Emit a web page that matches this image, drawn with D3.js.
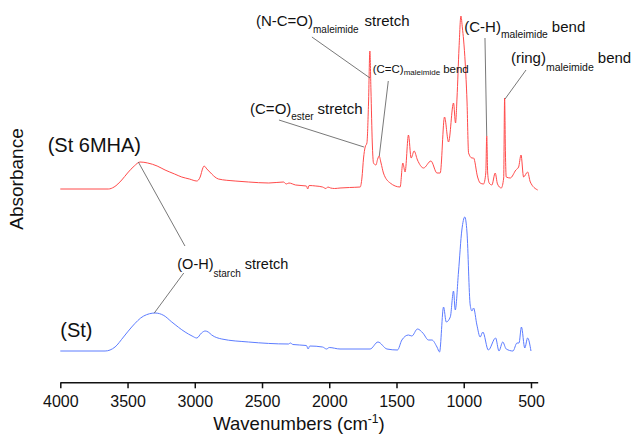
<!DOCTYPE html>
<html>
<head>
<meta charset="utf-8">
<script src="https://cdn.jsdelivr.net/npm/d3@7"></script>
<style>
  html, body { margin: 0; padding: 0; background: #fff; }
  svg text { font-family: "Liberation Sans", Arial, sans-serif; fill: #111; }
</style>
</head>
<body>
<svg id="chart" width="634" height="444"></svg>
<script>
// ---- data ----
const xTicks = [4000, 3500, 3000, 2500, 2000, 1500, 1000, 500];

// (St 6MHA) spectrum: wavenumber (cm-1), absorbance (a.u., stacked)
const st6mhaWn = [4000,3643,3600,3543,3500,3450,3407,3350,3280,3221,3150,3097,3040,2985,2960,2940,2931,2910,2874,2850,2824,2700,2600,2450,2340,2320,2300,2250,2170,2160,2150,2100,2050,2025,2010,1990,1960,1920,1850,1770,1757,1745,1733,1720,1708,1698,1690,1680,1671,1653,1640,1629,1615,1597,1547,1473,1453,1436,1411,1391,1369,1344,1299,1244,1199,1175,1143,1113,1076,1061,1050,1035,1021,1010,1001,989,976,964,939,927,897,878,853,836,829,822,811,791,766,749,721,703,696,690,684,654,612,592,574,555,525,505,450];
const st6mhaA  = [1.94,1.94,1.96,2.03,2.10,2.17,2.21,2.20,2.17,2.13,2.09,2.06,2.04,2.02,2.06,2.15,2.17,2.14,2.09,2.06,2.04,2.02,2.01,2.00,2.01,1.99,2.00,1.98,1.97,1.94,1.975,1.97,1.96,1.945,1.96,1.95,1.945,1.95,1.955,1.96,2.05,2.25,2.36,2.40,2.80,3.32,2.93,2.40,2.20,2.18,2.24,2.27,2.20,2.10,2.00,1.96,2.20,2.11,2.48,2.25,2.32,2.23,2.15,2.22,2.10,2.10,2.66,2.41,2.80,2.60,2.85,3.35,3.67,3.55,3.43,3.20,2.83,2.30,2.25,2.25,2.06,2.00,1.99,2.10,2.47,2.10,2.00,1.98,2.10,1.99,1.95,2.05,2.85,2.30,2.06,2.05,2.13,2.16,2.28,2.06,2.11,2.01,1.93];

// (St) spectrum
const stWn = [4000,3667,3593,3530,3469,3380,3295,3230,3171,3072,3020,2985,2950,2923,2900,2874,2799,2600,2303,2290,2270,2170,2157,2145,2050,2020,2000,1920,1696,1638,1571,1493,1460,1411,1386,1344,1304,1262,1237,1199,1180,1150,1130,1100,1076,1063,1039,1014,992,976,952,939,927,902,878,858,817,763,738,710,684,634,604,589,571,546,525,500];
const stA  = [0.32,0.32,0.36,0.46,0.56,0.67,0.70,0.675,0.61,0.51,0.47,0.45,0.50,0.52,0.51,0.48,0.44,0.41,0.39,0.40,0.385,0.375,0.34,0.37,0.36,0.34,0.355,0.34,0.34,0.41,0.34,0.33,0.43,0.48,0.47,0.54,0.50,0.43,0.43,0.36,0.31,0.76,0.61,0.66,0.92,0.73,1.11,1.53,1.66,1.51,0.78,0.72,0.75,0.58,0.46,0.51,0.33,0.45,0.32,0.41,0.34,0.32,0.40,0.40,0.56,0.35,0.45,0.32];

// annotation texts
const bandMain = ["(N-C=O)", "(C=O)", "(C=C)", "(C-H)", "(ring)", "(O-H)"];
const bandSub  = ["maleimide", "ester", "maleimide", "maleimide", "maleimide", "starch"];
const bandTail = ["stretch", "stretch", "bend", "bend", "bend", "stretch"];
const sampleLabels = ["(St 6MHA)", "(St)"];

// ---- layout ----
const svg = d3.select("#chart");
const x = d3.scaleLinear().domain([4000, 450]).range([60.3, 537.7]);
const y = d3.scaleLinear().domain([0, 3.83]).range([383, 0]);

const line = d3.line()
  .x(d => x(d[0])).y(d => y(d[1]))
  .curve(d3.curveMonotoneX);

svg.append("path")
  .datum(d3.zip(st6mhaWn, st6mhaA))
  .attr("d", line).attr("fill", "none")
  .attr("stroke", "#ff4a4a").attr("stroke-width", 1);

svg.append("path")
  .datum(d3.zip(stWn, stA))
  .attr("d", line).attr("fill", "none")
  .attr("stroke", "#5c7cff").attr("stroke-width", 1);

// x axis
const ax = svg.append("g")
  .attr("transform", `translate(0,${y(0) - 0.7})`)
  .call(d3.axisBottom(x).tickValues(xTicks).tickSize(6).tickSizeOuter(0).tickFormat(d3.format("d")));
ax.select(".domain").attr("stroke", "#111").attr("stroke-width", 1.5);
ax.selectAll(".tick line").attr("stroke", "#111").attr("stroke-width", 1.5);
ax.selectAll(".tick text")
  .attr("y", 25).attr("dy", 0)
  .style("font-family", '"Liberation Sans", Arial, sans-serif')
  .style("font-size", "16px").attr("fill", "#111");

// axis titles
const xt = svg.append("text")
  .attr("x", (x(4000) + x(450)) / 2).attr("y", 430)
  .attr("text-anchor", "middle").style("font-size", "18.5px");
xt.append("tspan").text("Wavenumbers (cm");
xt.append("tspan").text("-1").style("font-size", "12px").attr("dy", -7);
xt.append("tspan").text(")").attr("dy", 7);

svg.append("text")
  .attr("transform", "translate(23,179) rotate(-90)")
  .attr("text-anchor", "middle").style("font-size", "19px")
  .text("Absorbance");

// sample labels
svg.append("text").attr("x", x(4094)).attr("y", y(2.31))
  .style("font-size", "20px").text(sampleLabels[0]);
svg.append("text").attr("x", x(4000)).attr("y", y(0.46))
  .style("font-size", "20px").text(sampleLabels[1]);

// annotations: anchor (wn, A), font size, sub size, sub drop, leader lines
const annos = [
  {i:0, wn:2545, a:3.57, fs:15,   ss:10,  sd:7.3, gap:6,   lines:[[2129,3.46,1697,3.05]]},
  {i:1, wn:2589, a:2.69, fs:15,   ss:10,  sd:6.4, gap:4,   lines:[[2374,2.63,1742,2.36]]},
  {i:2, wn:1677, a:3.10, fs:11.5, ss:8,   sd:1.5, gap:3,   lines:[[1561,3.02,1628,2.27]]},
  {i:3, wn:996,  a:3.51, fs:15,   ss:10.3,sd:6,   gap:4,   lines:[[842,3.45,829,2.47]]},
  {i:4, wn:649,  a:3.20, fs:15,   ss:10.5,sd:8.4, gap:4,   lines:[[537,3.13,693,2.84]]},
  {i:5, wn:3130, a:1.14, fs:14.5, ss:10,  sd:8.3, gap:4,   lines:[[3420,2.21,3073,1.37],[3082,1.10,3301,0.70]]}
];

annos.forEach(an => {
  an.lines.forEach(l => {
    svg.append("line")
      .attr("x1", x(l[0])).attr("y1", y(l[1]))
      .attr("x2", x(l[2])).attr("y2", y(l[3]))
      .attr("stroke", "#555").attr("stroke-width", 0.8);
  });
  const t = svg.append("text").attr("x", x(an.wn)).attr("y", y(an.a))
    .style("font-size", an.fs + "px");
  t.append("tspan").text(bandMain[an.i]);
  t.append("tspan").text(bandSub[an.i]).style("font-size", an.ss + "px").attr("dy", an.sd);
  t.append("tspan").text(bandTail[an.i]).attr("dy", -an.sd).attr("dx", an.gap);
});
</script>
</body>
</html>
